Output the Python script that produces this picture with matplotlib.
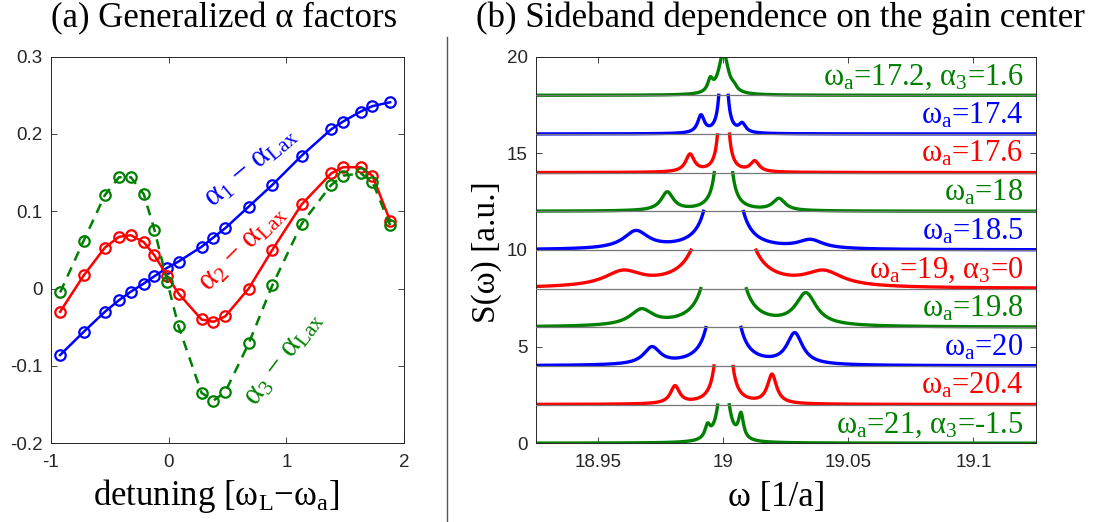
import numpy as np
import matplotlib
matplotlib.use('Agg')
import matplotlib.pyplot as plt
from matplotlib.lines import Line2D

plt.rcParams['font.family'] = ['Liberation Sans', 'DejaVu Sans']
plt.rcParams['mathtext.fontset'] = 'custom'
plt.rcParams['mathtext.rm'] = 'Liberation Serif'
plt.rcParams['mathtext.it'] = 'Liberation Serif:italic'
plt.rcParams['mathtext.bf'] = 'Liberation Serif:bold'
plt.rcParams['axes.unicode_minus'] = False

SERIF = ['Liberation Serif', 'DejaVu Serif']
GREEN = '#008000'
BLUE = '#0000ff'
RED = '#ff0000'
AXCOL = '#262626'

#%% (a) alpha factors vs detuning
detuning = [-0.92, -0.72, -0.54, -0.42, -0.32, -0.21, -0.12, -0.01, 0.085, 0.28,
            0.38, 0.48, 0.68, 0.88, 1.13, 1.38, 1.48, 1.63, 1.73, 1.88]
alpha1 = [-0.086, -0.056, -0.030, -0.015, -0.004, 0.0065, 0.016, 0.027, 0.035, 0.054,
          0.066, 0.078, 0.106, 0.134, 0.172, 0.206, 0.216, 0.229, 0.236, 0.241]
alpha2 = [-0.030, 0.017, 0.053, 0.067, 0.069, 0.060, 0.043, 0.016, -0.0065, -0.040,
          -0.043, -0.036, 0.000, 0.050, 0.109, 0.149, 0.157, 0.157, 0.146, 0.0875]
alpha3 = [-0.005, 0.062, 0.121, 0.144, 0.144, 0.122, 0.076, 0.008, -0.049, -0.135,
          -0.145, -0.134, -0.071, 0.004, 0.084, 0.134, 0.146, 0.149, 0.138, 0.082]

#%% (b) sideband spectra, listed from bottom to top
omega_a = [21, 20.4, 20, 19.8, 19, 18.5, 18, 17.6, 17.4, 17.2]
alpha3_note = {21: '-1.5', 19: '0', 17.2: '1.6'}
spec_colors = [GREEN, RED, BLUE, GREEN, RED, BLUE, GREEN, RED, BLUE, GREEN]
offsets = [0, 2, 4, 6, 8, 10, 12, 14, 16, 18]
w_center = 19.0
# central line: half width where it crosses the cut level 2, and its own width
half_gap = [0.0023, 0.0038, 0.0070, 0.0091, 0.0130, 0.0080, 0.0037, 0.0024, 0.0019, 0.0008]
center_w = [0.0020, 0.0005, 0.0005, 0.0005, 0.0005, 0.0005, 0.0005, 0.0006, 0.0008, 0.0023]
# lower sideband: position, height, half width
sb_lo_pos = [18.9936, 18.9806, 18.9714, 18.9672, 18.9598, 18.9650, 18.9775, 18.9866, 18.9910, 18.9947]
sb_lo_h = [1.05, 0.98, 1.00, 0.96, 0.96, 1.01, 1.01, 0.97, 1.00, 0.96]
sb_lo_w = [0.0012, 0.0022, 0.0040, 0.0055, 0.0090, 0.0060, 0.0030, 0.0021, 0.0016, 0.0012]
# upper sideband
sb_hi_pos = [19.0070, 19.0194, 19.0285, 19.0330, 19.0401, 19.0348, 19.0222, 19.0125, 19.0075, 19.0042]
sb_hi_h = [1.60, 1.58, 1.72, 1.79, 0.96, 0.55, 0.67, 0.62, 0.60, 0.70]
sb_hi_w = [0.0012, 0.0022, 0.0038, 0.0050, 0.0090, 0.0060, 0.0030, 0.0021, 0.0016, 0.0012]
cut_level = 2.0


def lorentz(w, c, g):
    return g**2 / ((w - c)**2 + g**2)


def spectrum(w, i):
    # three Lorentzian lines; amplitudes fixed by the gap edge and sideband heights
    pos = [w_center, sb_lo_pos[i], sb_hi_pos[i]]
    wid = [center_w[i], sb_lo_w[i], sb_hi_w[i]]
    pts = np.array([w_center - half_gap[i], sb_lo_pos[i], sb_hi_pos[i]])
    rhs = np.array([cut_level, sb_lo_h[i], sb_hi_h[i]])
    M = np.array([[lorentz(p, c, g) for c, g in zip(pos, wid)] for p in pts])
    amp = np.linalg.solve(M, rhs)
    S = sum(a * lorentz(w, c, g) for a, c, g in zip(amp, pos, wid))
    S[S > cut_level] = np.nan
    return S


#%% Figure
fig = plt.figure(figsize=(10.95, 5.22), dpi=100)


def style_axes(ax):
    for s in ax.spines.values():
        s.set_color(AXCOL)
        s.set_linewidth(0.7)
    ax.tick_params(direction='in', length=4, width=0.6, colors=AXCOL,
                   top=True, right=True, labelsize=13.5)
    ax.tick_params(axis='x', pad=8)
    ax.tick_params(axis='y', pad=6)


# left panel
ax1 = fig.add_axes([0.0463, 0.151, 0.3229, 0.7405])
mk = dict(marker='o', markersize=7.5, markerfacecolor='none', markeredgewidth=1.6)
ax1.plot(detuning, alpha1, color=BLUE, lw=1.8, **mk)
ax1.plot(detuning, alpha2, color=RED, lw=1.8, **mk)
ax1.plot(detuning, alpha3, color=GREEN, lw=1.8, dashes=[4, 3], **mk)
ax1.set_xlim(-1, 2)
ax1.set_ylim(-0.2, 0.3)
ax1.set_xticks([-1, 0, 1, 2])
ax1.set_xticklabels(['-1', '0', '1', '2'])
ax1.set_yticks([-0.2, -0.1, 0, 0.1, 0.2, 0.3])
ax1.set_yticklabels(['-0.2', '-0.1', '0', '0.1', '0.2', '0.3'])
style_axes(ax1)

ax1.text(0.70, 0.158, 'α$_1$ − α$_{\\rm Lax}$', color=BLUE, family=SERIF, fontsize=22,
         rotation=40, ha='center', va='center', rotation_mode='anchor')
ax1.text(0.63, 0.053, 'α$_2$ − α$_{\\rm Lax}$', color=RED, family=SERIF, fontsize=22,
         rotation=45, ha='center', va='center', rotation_mode='anchor')
ax1.text(0.975, -0.090, 'α$_3$ − α$_{\\rm Lax}$', color=GREEN, family=SERIF, fontsize=22,
         rotation=53, ha='center', va='center', rotation_mode='anchor')

# right panel
ax2 = fig.add_axes([0.4895, 0.151, 0.4566, 0.7405])
w = np.linspace(18.925, 19.125, 6001)
for k in offsets[1:]:
    ax2.axhline(k, color='#777777', lw=0.9, zorder=3)
for i, wa in enumerate(omega_a):
    ax2.plot(w, offsets[i] + spectrum(w, i), color=spec_colors[i], lw=2.4, zorder=2)
    label = 'ω$_{\\rm a}$=%g' % wa
    if wa in alpha3_note:
        label += ', α$_3$=' + alpha3_note[wa]
    ax2.text(19.12, offsets[i] + 0.55, label, color=spec_colors[i], family=SERIF,
             fontsize=22, ha='right', va='baseline', zorder=4)
ax2.set_xlim(18.925, 19.125)
ax2.set_ylim(0, 20)
ax2.set_xticks([18.95, 19, 19.05, 19.1])
ax2.set_xticklabels(['18.95', '19', '19.05', '19.1'])
ax2.set_yticks([0, 5, 10, 15, 20])
style_axes(ax2)

# titles and axis labels
fig.text(0.2046, 0.948, '(a) Generalized α factors', family=SERIF, fontsize=25,
         ha='center', va='baseline')
fig.text(0.713, 0.948, '(b) Sideband dependence on the gain center', family=SERIF,
         fontsize=25, ha='center', va='baseline')
fig.text(0.197, 0.033, 'detuning [ω$_{\\rm L}$−ω$_{\\rm a}$]', family=SERIF, fontsize=25,
         ha='center', va='baseline')
fig.text(0.709, 0.030, 'ω [1/a]', family=SERIF, fontsize=25, ha='center', va='baseline')
fig.text(0.4445, 0.5163, 'S(ω) [a.u.]', family=SERIF, fontsize=24, rotation=90,
         ha='center', va='center')

# divider between the panels
fig.add_artist(Line2D([0.4085, 0.4085], [0.0, 0.929], color='#555555', lw=1.0,
                      transform=fig.transFigure))

fig.savefig('out.png', dpi=100)
